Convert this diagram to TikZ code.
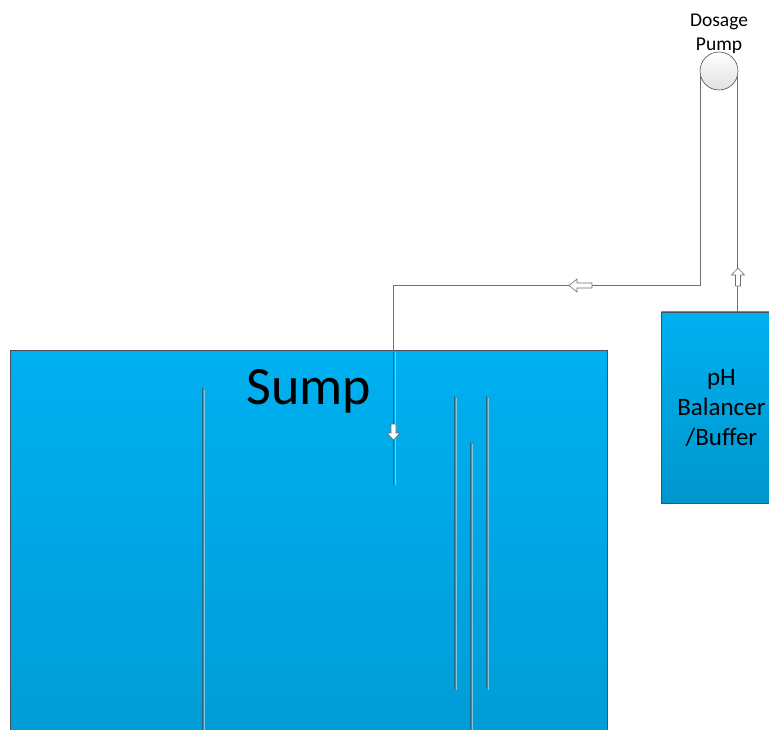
\documentclass[tikz,border=0pt]{standalone}
\usepackage{fontspec}
\setmainfont{Carlito}
\definecolor{sumptop}{RGB}{0,176,240}
\definecolor{sumpbot}{RGB}{0,156,214}
\definecolor{phbot}{RGB}{0,150,205}
\definecolor{edge}{RGB}{70,80,90}
\definecolor{pipe}{RGB}{110,110,110}
\definecolor{bafdark}{RGB}{35,105,135}
\definecolor{baflight}{RGB}{120,200,230}
\tikzset{
  tank/.style={draw=edge, line width=0.8pt, top color=sumptop, bottom color=sumpbot, rectangle, inner sep=0pt},
  phbox/.style={draw=edge, line width=0.8pt, top color=sumptop, bottom color=phbot, rectangle, inner sep=0pt, minimum width=120, minimum height=191, align=center, font=\fontsize{25}{30}\selectfont, text depth=0pt},
  pumpc/.style={circle, draw=edge, line width=0.6pt, top color=white, bottom color=black!12, minimum size=38, inner sep=0pt},
  pipeline/.style={draw=pipe, line width=1.1pt},
  flowarrow/.style={fill=white, draw=pipe, line width=0.6pt, line join=miter},
  bafd/.style={draw=bafdark, line width=1pt},
  bafl/.style={draw=baflight, line width=1pt},
  lbl/.style={inner sep=0pt, align=center}
}
\begin{document}
\begin{tikzpicture}[x=1pt,y=-1pt]
\useasboundingbox (0,0) rectangle (769,729);
\clip (0,0) rectangle (769,729);
% sump
\node[tank, minimum width=597, minimum height=400, anchor=north west] (sump) at (10,350) {};
\node[lbl, font=\fontsize{54}{60}\selectfont] (sumplbl) at (309,391) {Sump};
% baffles
\draw[bafd] (202.5,388) -- (202.5,735);
\draw[bafl] (204.5,390) -- (204.5,735);
\draw[bafd] (454.5,396) -- (454.5,689);
\draw[bafl] (456.5,398) -- (456.5,690);
\draw[bafd] (470.5,442) -- (470.5,735);
\draw[bafl] (472.5,444) -- (472.5,735);
\draw[bafd] (486.5,396) -- (486.5,688);
\draw[bafl] (488.5,398) -- (488.5,690);
% pH box
\node[phbox, anchor=north west] (ph) at (661,311.5) {pH\\Balancer\\/Buffer};
% pump
\node[pumpc] (pump) at (719,71) {};
\node[lbl, font=\fontsize{19.5}{24}\selectfont] (pumplbl) at (719,34) {Dosage\\Pump};
% pipes
\coordinate (outlet) at (393.5,485);
\draw[pipeline] (pump.west |- 0,76) ++(1,0) coordinate (pl) -- (pl |- 0,285.5) -| (outlet);
\draw[bafd, line width=0.9pt] (393.5,352) -- (393.5,485);
\draw[bafl, line width=0.8pt] (395.5,352) -- (395.5,485);
\draw[pipeline] (pump.east |- 0,76) ++(-1,0) coordinate (pr) -- (pr |- ph.north);
% flow arrows
\draw[flowarrow] (569,285.5) -- (577,279) -- (577,283) -- (592,283) -- (592,288) -- (577,288) -- (577,292) -- cycle;
\draw[flowarrow] (738,268) -- (744.5,275) -- (740.5,275) -- (740.5,286) -- (735.5,286) -- (735.5,275) -- (731.5,275) -- cycle;
\draw[flowarrow] (393.5,440) -- (400,433) -- (396,433) -- (396,424) -- (391,424) -- (391,433) -- (387,433) -- cycle;
\end{tikzpicture}
\end{document}
